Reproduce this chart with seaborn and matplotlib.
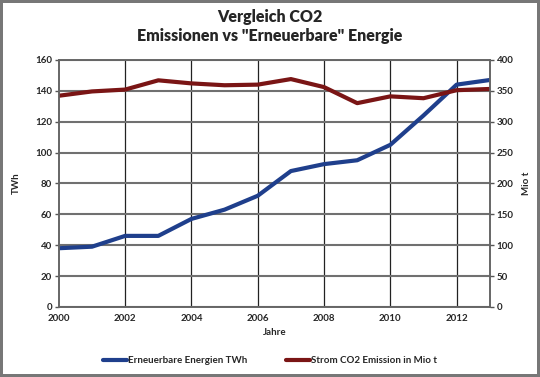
import pandas as pd
import matplotlib.pyplot as plt
import seaborn as sns

years = list(range(2000, 2014))
erneuerbare_twh = [38, 39, 46, 46, 57, 63, 72, 88, 92.5, 95, 105, 124, 144, 147]
co2_mio_t = [342, 349, 352, 367, 362, 359, 360, 369, 356, 330, 341, 338, 351, 353]

df = pd.DataFrame({'Jahr': years, 'TWh': erneuerbare_twh, 'CO2': co2_mio_t})

sns.set_style('white')
plt.rcParams['font.family'] = ['Lato', 'DejaVu Sans']

blue = '#1f3f8c'
red = '#7a1515'

fig = plt.figure(figsize=(5.4, 3.77), dpi=100)
fig.patch.set_edgecolor('#777777')
fig.patch.set_linewidth(3)
ax = fig.add_axes([0.109, 0.186, 0.798, 0.655])
ax2 = ax.twinx()

sns.lineplot(data=df, x='Jahr', y='TWh', ax=ax, color=blue, lw=3,
             label='Erneuerbare Energien TWh', legend=False)
sns.lineplot(data=df, x='Jahr', y='CO2', ax=ax2, color=red, lw=3,
             label='Strom CO2 Emission in Mio t', legend=False)

ax.set_xlim(2000, 2013)
ax.set_ylim(0, 160)
ax2.set_ylim(0, 400)
ax.set_xticks(range(2000, 2013, 2))
ax.set_yticks(range(0, 161, 20))
ax2.set_yticks(range(0, 401, 50))

ax.grid(axis='y', color='#707070', lw=1.5)
for x in range(2002, 2013, 2):
    ax.axvline(x, color='#222222', lw=0.9, zorder=0)
ax.set_axisbelow(True)

for a in (ax, ax2):
    for s in a.spines.values():
        s.set_color('#666666')
        s.set_linewidth(1.2)
    a.tick_params(labelsize=7, length=3, width=1, color='#555555', pad=2)
    for lab in a.get_xticklabels() + a.get_yticklabels():
        lab.set_fontweight('bold')

ax.set_xlabel('Jahre', fontsize=7, fontweight='bold', labelpad=4)
ax.set_ylabel('TWh', fontsize=7, fontweight='bold', labelpad=10)
ax2.set_ylabel('Mio t', fontsize=7, fontweight='bold', labelpad=6)

fig.suptitle('Vergleich CO2\nEmissionen vs "Erneuerbare" Energie',
             fontsize=11.5, fontweight='heavy', y=0.975, linespacing=1.2)

h1, l1 = ax.get_legend_handles_labels()
h2, l2 = ax2.get_legend_handles_labels()
fig.legend(h1 + h2, l1 + l2, loc='center', bbox_to_anchor=(0.5, 0.043),
           ncol=2, frameon=False, handlelength=2.5,
           handletextpad=0.1, columnspacing=4,
           prop={'size': 7, 'weight': 'bold'})

fig.savefig('out.png', dpi=100)
